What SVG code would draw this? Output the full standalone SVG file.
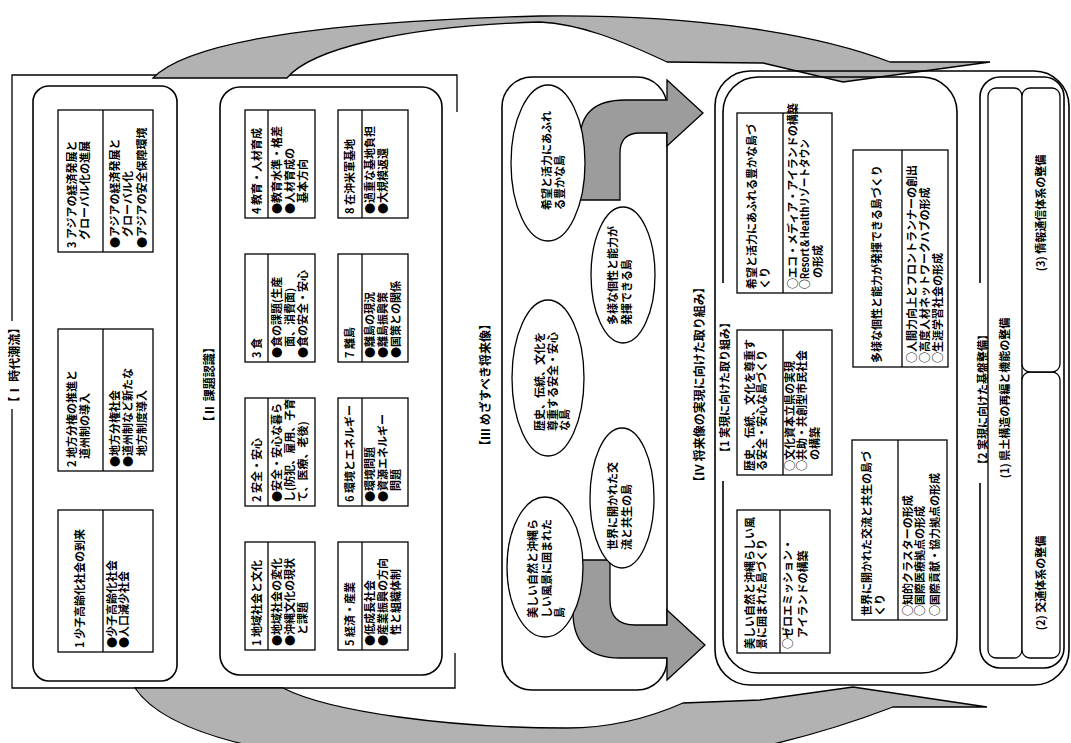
<svg xmlns="http://www.w3.org/2000/svg" width="1071" height="743" viewBox="0 0 1071 743">
<style>
text{font-family:"Noto Sans CJK JP","Noto Sans CJK SC",sans-serif;font-size:11px;font-weight:bold;fill:#000}
.h{font-size:12px}
.bx{fill:#fff;stroke:#000;stroke-width:1.3}
.rr{fill:none;stroke:#000;stroke-width:1.6}
.ln{fill:none;stroke:#000;stroke-width:1.3}
.el{fill:#fff;stroke:#000;stroke-width:1.3}
.gr{fill:#9c9c9c;stroke:#000;stroke-width:1.3}
.sw{fill:#b2b2b2;stroke:#000;stroke-width:1.3}
.bg{fill:#fff}
.m{text-anchor:middle}
</style>
<rect width="1071" height="743" fill="#fff"/>

<g transform="matrix(0,-1,1,0,0,743)">
  <g id="frame-1-2">
    <path class="ln" d="M90,455 H55 V12 H668 V457 H631"/>
    <rect class="bg" x="334" y="7" width="88" height="16"/>
    <text class="h m" x="378" y="19">【Ⅰ 時代潮流】</text>
  </g>
  <g id="sec1">
    <rect class="rr" x="62" y="33" width="595" height="144" rx="16"/>
    <g id="s1-b1">
      <rect class="bx" x="91" y="58" width="142" height="95"/>
      <line class="ln" x1="91" y1="103" x2="233" y2="103"/>
      <text x="95" y="84">1 少子高齢化社会の到来</text>
      <text x="95" y="116">●少子高齢化社会</text>
      <text x="95" y="128">●人口減少社会</text>
    </g>
    <g id="s1-b2">
      <rect class="bx" x="272" y="58" width="142" height="95"/>
      <line class="ln" x1="272" y1="103" x2="414" y2="103"/>
      <text x="276" y="76">2 地方分権の推進と</text>
      <text x="284" y="89">道州制の導入</text>
      <text x="276" y="119">●地方分権社会</text>
      <text x="276" y="132">●道州制など新たな</text>
      <text x="287" y="146">地方制度導入</text>
    </g>
    <g id="s1-b3">
      <rect class="bx" x="491" y="58" width="142" height="95"/>
      <line class="ln" x1="491" y1="103" x2="633" y2="103"/>
      <text x="495" y="76">3 アジアの経済発展と</text>
      <text x="503" y="89">グローバル化の進展</text>
      <text x="495" y="119">●アジアの経済発展と</text>
      <text x="506" y="132">グローバル化</text>
      <text x="495" y="146">●アジアの安全保障環境</text>
    </g>
  </g>

  <g id="sec2">
    <text class="h" x="315" y="214">【Ⅱ 課題認識】</text>
    <rect class="rr" x="68" y="220" width="588" height="222" rx="20"/>
    <g id="s2-b1">
      <rect class="bx" x="93" y="245" width="108" height="70"/>
      <line class="ln" x1="93" y1="268" x2="201" y2="268"/>
      <text x="97" y="261">1 地域社会と文化</text>
      <text x="97" y="281">●地域社会の変化</text>
      <text x="97" y="294">●沖縄文化の現状</text>
      <text x="108" y="307">と課題</text>
    </g>
    <g id="s2-b2">
      <rect class="bx" x="237" y="245" width="108" height="70"/>
      <line class="ln" x1="237" y1="268" x2="345" y2="268"/>
      <text x="241" y="261">2 安全・安心</text>
      <text x="241" y="281">●安全・安心な暮ら</text>
      <text x="241" y="294">し(防犯、雇用、子育</text>
      <text x="241" y="307">て、医療、老後)</text>
    </g>
    <g id="s2-b3">
      <rect class="bx" x="381" y="245" width="108" height="70"/>
      <line class="ln" x1="381" y1="268" x2="489" y2="268"/>
      <text x="385" y="261">3 食</text>
      <text x="385" y="281">●食の課題(生産</text>
      <text x="396" y="294">面、消費面)</text>
      <text x="385" y="307">●食の安全・安心</text>
    </g>
    <g id="s2-b4">
      <rect class="bx" x="525" y="245" width="108" height="70"/>
      <line class="ln" x1="525" y1="268" x2="633" y2="268"/>
      <text x="529" y="261">4 教育・人材育成</text>
      <text x="529" y="281">●教育水準・格差</text>
      <text x="529" y="294">●人材育成の</text>
      <text x="540" y="307">基本方向</text>
    </g>
    <g id="s2-b5">
      <rect class="bx" x="93" y="338" width="108" height="70"/>
      <line class="ln" x1="93" y1="362" x2="201" y2="362"/>
      <text x="97" y="354">5 経済・産業</text>
      <text x="97" y="374">●低成長社会</text>
      <text x="97" y="387">●産業振興の方向</text>
      <text x="108" y="400">性と組織体制</text>
    </g>
    <g id="s2-b6">
      <rect class="bx" x="237" y="338" width="108" height="70"/>
      <line class="ln" x1="237" y1="362" x2="345" y2="362"/>
      <text x="241" y="354">6 環境とエネルギー</text>
      <text x="241" y="374">●環境問題</text>
      <text x="241" y="387">●資源エネルギー</text>
      <text x="252" y="400">問題</text>
    </g>
    <g id="s2-b7">
      <rect class="bx" x="381" y="338" width="108" height="70"/>
      <line class="ln" x1="381" y1="362" x2="489" y2="362"/>
      <text x="385" y="354">7 離島</text>
      <text x="385" y="374">●離島の現況</text>
      <text x="385" y="387">●離島振興策</text>
      <text x="385" y="400">●国策との関係</text>
    </g>
    <g id="s2-b8">
      <rect class="bx" x="525" y="338" width="108" height="70"/>
      <line class="ln" x1="525" y1="362" x2="633" y2="362"/>
      <text x="529" y="354">8 在沖米軍基地</text>
      <text x="529" y="374">●過重な基地負担</text>
      <text x="529" y="387">●大規模返還</text>
    </g>
  </g>

  <g id="sec3">
    <text class="h" x="291" y="490">【Ⅲ めざすべき将来像】</text>
    <rect class="rr" x="53" y="502" width="613" height="165" rx="30"/>
  </g>
</g>

<g id="connectors">
  <path class="gr" d="M580,200 V140 Q580,100 625,100 H667 V80 L703,113 L667,146 V133 H640 Q620,133 620,153 V200 Z"/>
  <path class="gr" d="M573,560 V612 Q573,658 620,658 H667 V680 L705,645 L667,610 V625 H635 Q610,625 610,600 V560 Z"/>
  <path class="sw" d="M153,78 C185,45 300,22 540,16 C700,14 820,35 890,62 L990,62 L843,82 L763,63 L667,62 C620,40 580,24 540,22 C400,26 310,50 287,78 Z"/>
  <path class="sw" d="M135,688 C170,740 300,770 560,770 C700,770 820,735 893,707 L987,707 L853,687 L760,700 L683,703 C640,722 600,728 567,728 C450,728 330,712 283,688 Z"/>
</g>

<g transform="matrix(0,-1,1,0,0,743)">
  <g id="ell-c"><ellipse class="el" cx="580" cy="548" rx="78" ry="37"/>
    <text x="533" y="551">希望と活力にあふれ</text><text x="533" y="564">る豊かな島</text></g>
  <g id="ell-b"><ellipse class="el" cx="365" cy="548" rx="78" ry="36"/>
    <text x="312" y="544">歴史、伝統、文化を</text><text x="312" y="557">尊重する安全・安心</text><text x="312" y="569">な島</text></g>
  <g id="ell-a"><ellipse class="el" cx="176" cy="545" rx="70" ry="38"/>
    <text x="125" y="537">美しい自然と沖縄ら</text><text x="125" y="551">しい風景に囲まれた</text><text x="125" y="564">島</text></g>
  <g id="ell-d"><ellipse class="el" cx="468" cy="623" rx="68" ry="32"/>
    <text x="418" y="617">多様な個性と能力が</text><text x="418" y="631">発揮できる島</text></g>
  <g id="ell-e"><ellipse class="el" cx="245" cy="622" rx="70" ry="32"/>
    <text x="193" y="617">世界に開かれた交</text><text x="193" y="631">流と共生の島</text></g>

  <g id="sec4">
    <text class="h" x="255" y="704">【Ⅳ 将来像の実現に向けた取り組み】</text>
    <rect class="rr" x="58" y="715" width="614" height="354" rx="35"/>
    <g id="sec4-1">
      <rect class="rr" x="70" y="723" width="596" height="234" rx="35"/>
      <rect class="bg" x="262" y="716" width="198" height="15"/>
      <text x="285" y="729">【1 実現に向けた取り組み】</text>
    </g>
    <g id="s4-b1">
      <rect class="bx" x="90" y="737" width="143" height="93"/>
      <line class="ln" x1="90" y1="780" x2="233" y2="780"/>
      <text x="94" y="754">美しい自然と沖縄らしい風</text>
      <text x="94" y="766">景に囲まれた島づくり</text>
      <text x="94" y="792">○ゼロエミッション・</text>
      <text x="105" y="807">アイランドの構築</text>
    </g>
    <g id="s4-b2">
      <rect class="bx" x="268" y="737" width="145" height="95"/>
      <line class="ln" x1="268" y1="783" x2="413" y2="783"/>
      <text x="272" y="754">歴史、伝統、文化を尊重す</text>
      <text x="272" y="766">る安全・安心な島づくり</text>
      <text x="272" y="794">○文化資本立県の実現</text>
      <text x="272" y="806">○共助・共創型市民社会</text>
      <text x="283" y="819">の構築</text>
    </g>
    <g id="s4-b3">
      <rect class="bx" x="450" y="737" width="180" height="95"/>
      <line class="ln" x1="450" y1="783" x2="630" y2="783"/>
      <text x="454" y="756">希望と活力にあふれる豊かな島づ</text>
      <text x="454" y="769">くり</text>
      <text x="454" y="797">○エコ・メディア・アイランドの構築</text>
      <text x="454" y="809" textLength="150" lengthAdjust="spacingAndGlyphs">○Resort＆Healthリゾートタウン</text>
      <text x="465" y="822">の形成</text>
    </g>
    <g id="s4-b4">
      <rect class="bx" x="123" y="852" width="180" height="95"/>
      <line class="ln" x1="123" y1="898" x2="303" y2="898"/>
      <text x="127" y="871">世界に開かれた交流と共生の島づ</text>
      <text x="127" y="884">くり</text>
      <text x="127" y="912">○知的クラスターの形成</text>
      <text x="127" y="924">○国際医療拠点の形成</text>
      <text x="127" y="939">○国際貢献・協力拠点の形成</text>
    </g>
    <g id="s4-b5">
      <rect class="bx" x="376" y="853" width="217" height="95"/>
      <line class="ln" x1="376" y1="902" x2="593" y2="902"/>
      <text x="380" y="881">多様な個性と能力が発揮できる島づくり</text>
      <text x="380" y="916">○人間力向上とフロントランナーの創出</text>
      <text x="380" y="929">○高度人材ネットワークハブの形成</text>
      <text x="380" y="942">○生涯学習社会の形成</text>
    </g>
    <g id="sec4-2">
      <rect class="rr" x="75" y="980" width="591" height="84" rx="20"/>
      <rect class="bg" x="260" y="974" width="200" height="15"/>
      <text x="273" y="987">【2 実現に向けた基盤整備】</text>
      <rect class="bx" x="85" y="988" width="570" height="34" rx="8"/>
      <text class="m" x="345" y="1009">(1) 県土構造の再編と機能の整備</text>
      <rect class="bx" x="85" y="1022" width="286" height="38" rx="8"/>
      <text class="m" x="160" y="1045">(2) 交通体系の整備</text>
      <rect class="bx" x="371" y="1022" width="284" height="38" rx="8"/>
      <text class="m" x="530" y="1045">(3) 情報通信体系の整備</text>
    </g>
  </g>
</g>
</svg>
